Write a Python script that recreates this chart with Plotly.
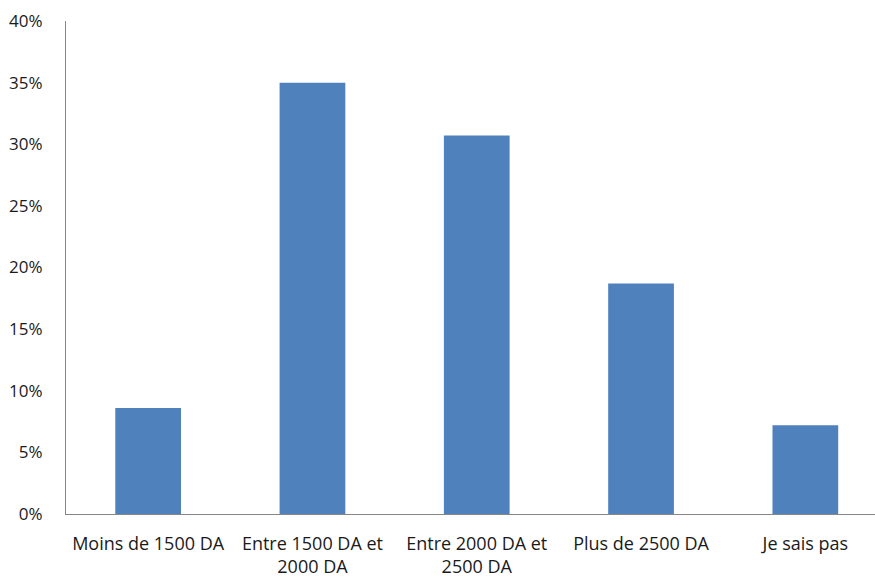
import plotly.graph_objects as go

# Survey answers: share of respondents per price bracket (%)
categories = [
    "Moins de 1500 DA",
    "Entre 1500 DA et<br>2000 DA",
    "Entre 2000 DA et<br>2500 DA",
    "Plus de 2500 DA",
    "Je sais pas",
]
shares = [8.6, 35.0, 30.7, 18.7, 7.2]
y_ticks = [0, 5, 10, 15, 20, 25, 30, 35, 40]

bar_color = "#4F81BD"
axis_color = "#868686"
font_family = "Open Sans, Liberation Sans, sans-serif"

fig = go.Figure(
    go.Bar(
        x=list(range(len(categories))),
        y=shares,
        width=0.4,
        marker=dict(color=bar_color, line=dict(width=0)),
        hoverinfo="skip",
    )
)

fig.update_layout(
    width=875,
    height=580,
    margin=dict(l=66, r=0, t=21, b=66),
    paper_bgcolor="white",
    plot_bgcolor="white",
    showlegend=False,
    font=dict(family=font_family, size=18, color="#1a1a1a"),
)

fig.update_xaxes(
    range=[-0.5, 4.424],
    tickmode="array",
    tickvals=list(range(len(categories))),
    ticktext=categories,
    tickfont=dict(size=18),
    showgrid=False,
    zeroline=False,
    showline=True,
    linecolor=axis_color,
    linewidth=1,
    ticks="outside",
    ticklen=13,
    tickcolor="rgba(0,0,0,0)",
    automargin=False,
    fixedrange=True,
)

fig.update_yaxes(
    range=[0, 40],
    tickmode="array",
    tickvals=y_ticks,
    ticktext=[f"{v}%" for v in y_ticks],
    tickfont=dict(size=17),
    showgrid=False,
    zeroline=False,
    showline=True,
    linecolor=axis_color,
    linewidth=1,
    ticks="outside",
    ticklen=19,
    tickcolor="rgba(0,0,0,0)",
    automargin=False,
    fixedrange=True,
)

fig.write_html("out.html", config={"displayModeBar": False})
